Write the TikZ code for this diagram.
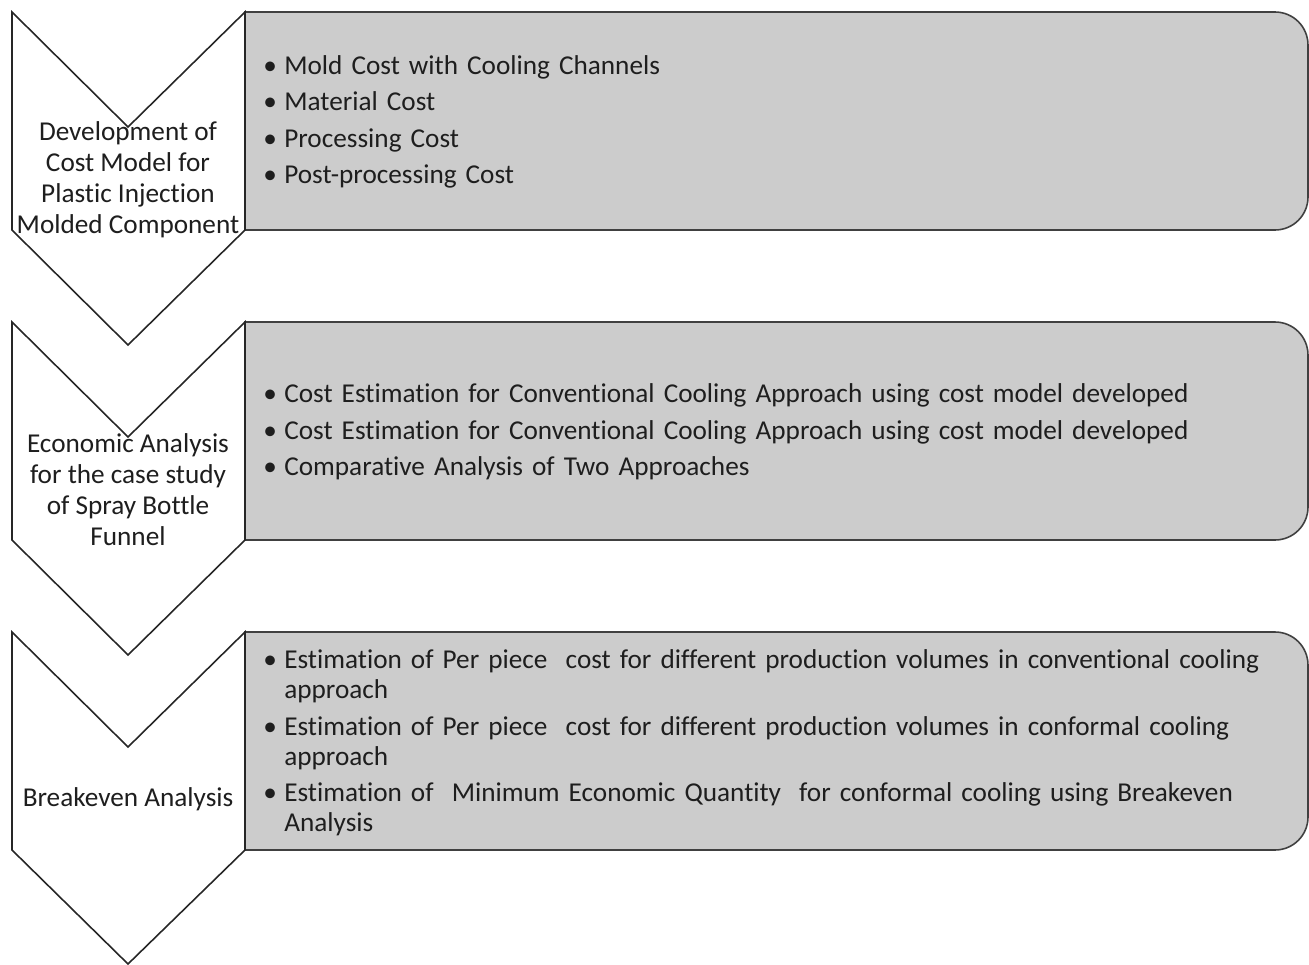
\documentclass[tikz,border=0pt]{standalone}
\usepackage{fontspec}
\setmainfont{Carlito}[Ligatures=NoCommon]
\usetikzlibrary{positioning}

\definecolor{boxgray}{RGB}{204,204,204}
\definecolor{edgegray}{RGB}{64,64,64}
\definecolor{txt}{RGB}{30,30,30}

% one bullet point with hanging indent
\newcommand{\bitem}[1]{\par\noindent\hangindent=0.42cm\hangafter=1%
  \makebox[0.42cm][l]{\textbullet}#1}

\begin{document}
\begin{tikzpicture}[
  x=0.02cm, y=0.02cm,
  chev/.style={draw=black!85, fill=white, line width=0.9pt, line join=miter},
  panel/.style={draw=edgegray, fill=boxgray, line width=0.9pt},
  stage/.style={align=center, inner sep=0pt, text=txt,
                font=\fontsize{15.5}{17.6}\selectfont},
  items/.style={anchor=west, align=left, inner sep=0pt, text=txt,
                text width=20.5cm, font=\fontsize{15.5}{17.07}\selectfont}
]
\useasboundingbox (0,0) rectangle (1309,-964);

% grey panels, rounded on the right
\draw[panel] (245,-12) -- (1275,-12) arc[start angle=90, end angle=0, radius=0.66cm]
  -- (1308,-197) arc[start angle=0, end angle=-90, radius=0.66cm] -- (245,-230) -- cycle;
\draw[panel] (245,-322) -- (1275,-322) arc[start angle=90, end angle=0, radius=0.66cm]
  -- (1308,-507) arc[start angle=0, end angle=-90, radius=0.66cm] -- (245,-540) -- cycle;
\draw[panel] (245,-632) -- (1275,-632) arc[start angle=90, end angle=0, radius=0.66cm]
  -- (1308,-817) arc[start angle=0, end angle=-90, radius=0.66cm] -- (245,-850) -- cycle;

% chevrons
\draw[chev] (12,-12) -- (128,-127) -- (245,-12) -- (245,-230) -- (128,-345) -- (12,-230) -- cycle;
\draw[chev] (12,-322) -- (128,-437) -- (245,-322) -- (245,-540) -- (128,-655) -- (12,-540) -- cycle;
\draw[chev] (12,-632) -- (128,-747) -- (245,-632) -- (245,-850) -- (128,-964) -- (12,-850) -- cycle;

% stage labels
\node[stage] (dev) at (128,-180) {Development of\\Cost Model for\\Plastic Injection\\Molded Component};
\node[stage] (econ) at (128,-490) {Economic Analysis\\for the case study\\of Spray Bottle\\Funnel};
\node[stage] (brk) at (128,-799) {Breakeven Analysis};

% bullet lists
\node[items] (devlist) at (263,-113) {\setlength{\parskip}{3.7pt}\hyphenpenalty=10000%
  \bitem{Mold Cost with Cooling Channels}
  \bitem{Material Cost}
  \bitem{Processing Cost}
  \bitem{Post-processing Cost}\par};
\node[items] (econlist) at (263,-423) {\setlength{\parskip}{3.7pt}\hyphenpenalty=10000%
  \bitem{Cost Estimation for Conventional Cooling Approach using cost model developed}
  \bitem{Cost Estimation for Conventional Cooling Approach using cost model developed}
  \bitem{Comparative Analysis of Two Approaches}\par};
\node[items] (brklist) at (263,-734) {\setlength{\parskip}{3.7pt}\hyphenpenalty=10000%
  \bitem{Estimation of Per piece\ \ cost for different production volumes in conventional cooling approach}
  \bitem{Estimation of Per piece\ \ cost for different production volumes in conformal cooling approach}
  \bitem{Estimation of\ \ Minimum Economic Quantity\ \ for conformal cooling using Breakeven Analysis}\par};
\end{tikzpicture}
\end{document}
